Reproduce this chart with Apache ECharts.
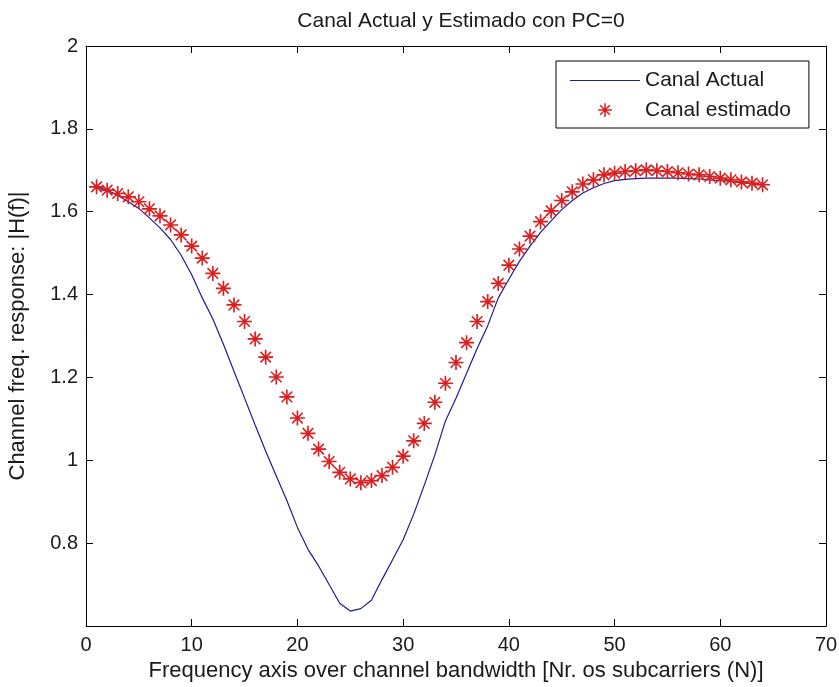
<!DOCTYPE html>
<html>
<head>
<meta charset="utf-8">
<script src="https://cdn.jsdelivr.net/npm/echarts@6/dist/echarts.min.js"></script>
<style>html,body{margin:0;padding:0;background:#fff}#c{width:839px;height:687px}</style>
</head>
<body>
<div id="c"></div>
<script>
var subcarriers = [];
for (var i = 1; i <= 64; i++) subcarriers.push(i);

var canalActual = [
  1.660, 1.652, 1.640, 1.624, 1.608, 1.585, 1.561, 1.533, 1.495, 1.448,
  1.392, 1.341, 1.280, 1.215, 1.150, 1.085, 1.022, 0.962, 0.903, 0.838,
  0.785, 0.745, 0.700, 0.655, 0.636, 0.642, 0.662, 0.712, 0.760, 0.808,
  0.870, 0.940, 1.013, 1.095, 1.150, 1.210, 1.270, 1.325, 1.392, 1.437,
  1.480, 1.517, 1.550, 1.578, 1.605, 1.627, 1.645, 1.658, 1.668, 1.675,
  1.678, 1.680, 1.681, 1.681, 1.681, 1.681, 1.680, 1.679, 1.677, 1.675,
  1.673, 1.670, 1.667, 1.664
];

var canalEstimado = [
  1.660, 1.652, 1.644, 1.636, 1.624, 1.607, 1.590, 1.568, 1.544, 1.517,
  1.488, 1.451, 1.415, 1.375, 1.335, 1.293, 1.249, 1.201, 1.153, 1.102,
  1.065, 1.027, 0.997, 0.971, 0.955, 0.946, 0.951, 0.963, 0.983, 1.010,
  1.047, 1.089, 1.140, 1.186, 1.236, 1.284, 1.335, 1.383, 1.427, 1.471,
  1.510, 1.541, 1.576, 1.602, 1.627, 1.648, 1.667, 1.677, 1.689, 1.693,
  1.697, 1.699, 1.701, 1.699, 1.697, 1.694, 1.691, 1.689, 1.685, 1.681,
  1.677, 1.672, 1.669, 1.665
];

var xTicks = { min: 0, max: 70, interval: 10 };
var yTicks = { min: 0.6, max: 2, interval: 0.2 };

var titleText = 'Canal Actual y Estimado con PC=0';
var xName = 'Frequency axis over channel bandwidth [Nr. os subcarriers (N)]';
var yName = 'Channel freq. response: |H(f)|';
var seriesNames = ['Canal Actual', 'Canal estimado'];

var FONT = 'Liberation Sans';
var TXT = '#1a1a1a';
var starCore = 'M-1.1,-10 L1.1,-10 L1.1,10 L-1.1,10 Z M-10,-1.1 L10,-1.1 L10,1.1 L-10,1.1 Z ' +
  'M-6.3,-7.8 L7.8,6.3 L6.3,7.8 L-7.8,-6.3 Z M6.3,-7.8 L7.8,-6.3 L-6.3,7.8 L-7.8,6.3 Z';
var starPath = 'path://' + starCore;
var starLegend = 'path://' + starCore + ' M-16,-16 L-15.9,-16 L-16,-15.9 Z M16,16 L15.9,16 L16,15.9 Z';

function pairs(xs, ys) { return xs.map(function (x, k) { return [x, ys[k]]; }); }

var chart = echarts.init(document.getElementById('c'), null, { renderer: 'canvas' });
chart.setOption({
  animation: false,
  backgroundColor: '#fff',
  textStyle: { fontFamily: FONT },
  title: {
    text: titleText, left: 456, top: 6, textAlign: 'center',
    textStyle: { fontFamily: FONT, fontSize: 21, fontWeight: 'normal', color: TXT }
  },
  grid: { left: 86, right: 13, top: 46, bottom: 61, containLabel: false, outerBoundsMode: 'none' },
  legend: {
    orient: 'vertical', left: 556, top: 61,
    padding: [9, 18, 7, 14],
    itemWidth: 70, itemHeight: 22, itemGap: 8,
    borderColor: '#000', borderWidth: 1, backgroundColor: '#fff',
    symbolKeepAspect: true,
    textStyle: { fontFamily: FONT, fontSize: 21, color: TXT },
    data: [
      { name: seriesNames[0], icon: 'path://M0,-0.6 L70,-0.6 L70,0.6 L0,0.6 Z' },
      { name: seriesNames[1], icon: starLegend, itemStyle: { borderWidth: 0 } }
    ]
  },
  xAxis: [
    {
      type: 'value', position: 'bottom', min: xTicks.min, max: xTicks.max, interval: xTicks.interval,
      name: xName, nameLocation: 'middle', nameGap: 34,
      nameTextStyle: { fontFamily: FONT, fontSize: 22, color: TXT },
      axisLine: { show: true, onZero: false, lineStyle: { color: '#000', width: 1 } },
      axisTick: { show: true, inside: true, length: 7, lineStyle: { color: '#000', width: 1 } },
      splitLine: { show: false },
      axisLabel: { margin: 9, fontFamily: FONT, fontSize: 20, color: TXT }
    },
    {
      type: 'value', position: 'top', min: xTicks.min, max: xTicks.max, interval: xTicks.interval,
      axisLine: { show: true, onZero: false, lineStyle: { color: '#000', width: 1 } },
      axisTick: { show: true, inside: true, length: 7, lineStyle: { color: '#000', width: 1 } },
      splitLine: { show: false },
      axisLabel: { show: false }
    }
  ],
  yAxis: [
    {
      type: 'value', position: 'left', min: yTicks.min, max: yTicks.max, interval: yTicks.interval,
      name: yName, nameLocation: 'middle', nameGap: 57,
      nameTextStyle: { fontFamily: FONT, fontSize: 22, color: TXT },
      axisLine: { show: true, onZero: false, lineStyle: { color: '#000', width: 1 } },
      axisTick: { show: true, inside: true, length: 7, lineStyle: { color: '#000', width: 1 } },
      splitLine: { show: false },
      axisLabel: {
        margin: 8, fontFamily: FONT, fontSize: 20, color: TXT,
        formatter: function (v) { return v < 0.7 ? '' : String(+v.toFixed(1)); }
      }
    },
    {
      type: 'value', position: 'right', min: yTicks.min, max: yTicks.max, interval: yTicks.interval,
      axisLine: { show: true, onZero: false, lineStyle: { color: '#000', width: 1 } },
      axisTick: { show: true, inside: true, length: 7, lineStyle: { color: '#000', width: 1 } },
      splitLine: { show: false },
      axisLabel: { show: false }
    }
  ],
  series: [
    {
      name: seriesNames[0], type: 'line', xAxisIndex: 0, yAxisIndex: 0,
      data: pairs(subcarriers, canalActual),
      showSymbol: false, symbol: 'none',
      lineStyle: { color: '#1c1c96', width: 1.2 },
      itemStyle: { color: '#1c1c96' },
      z: 2
    },
    {
      name: seriesNames[1], type: 'scatter', xAxisIndex: 0, yAxisIndex: 0,
      data: pairs(subcarriers, canalEstimado),
      symbol: starPath, symbolSize: 15, symbolKeepAspect: true,
      itemStyle: { color: '#dc1e1e', opacity: 1 },
      z: 3
    }
  ]
});
</script>
</body>
</html>
